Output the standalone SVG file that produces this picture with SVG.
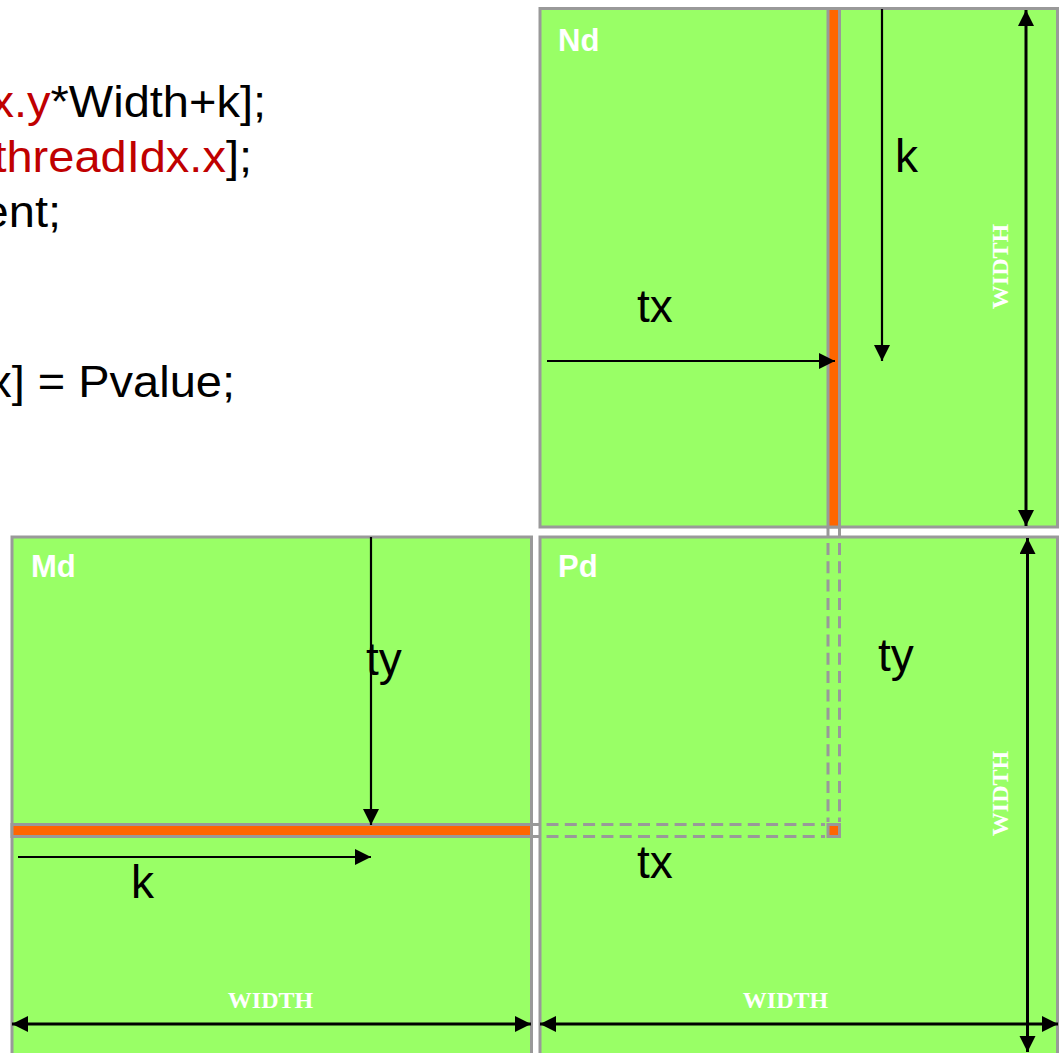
<svg xmlns="http://www.w3.org/2000/svg" width="1063" height="1053" viewBox="0 0 1063 1053">
<defs>
<style>
.mat{fill:#99ff66;stroke:#999999;stroke-width:3}
.strip{fill:#ff6600;stroke:#999999;stroke-width:3}
.gl{stroke:#999999;stroke-width:3;fill:none}
.dash{stroke:#999999;stroke-width:3;fill:none;stroke-dasharray:12 6.3}
.code{font-family:"Liberation Sans",Arial,sans-serif;font-size:44px;fill:#000}
.red{fill:#c00000}
.name{font-family:"Liberation Sans",Arial,sans-serif;font-size:31px;font-weight:bold;fill:#fff}
.lbl{font-family:"Liberation Sans",Arial,sans-serif;font-size:46px;fill:#000}
.wd{font-family:"Liberation Serif","Times New Roman",serif;font-size:24px;font-weight:bold;fill:#fff}
.arr{stroke:#000;stroke-width:2.2;fill:none;marker-end:url(#ah)}
.darr{stroke:#000;stroke-width:3;fill:none;marker-start:url(#ah);marker-end:url(#ah)}
</style>
<marker id="ah" markerUnits="userSpaceOnUse" markerWidth="17" markerHeight="17" refX="16" refY="8" orient="auto-start-reverse">
<path d="M0,0 L16,8 L0,16 Z" fill="#000"/>
</marker>
</defs>
<rect width="1063" height="1053" fill="#fff"/>

<g id="code">
<text class="code" transform="translate(266,117) scale(1.068,1)" text-anchor="end"><tspan class="red">x.y</tspan>*Width+k];</text>
<text class="code" transform="translate(252,172) scale(1.068,1)" text-anchor="end"><tspan class="red">threadIdx.x</tspan>];</text>
<text class="code" transform="translate(61,227) scale(1.068,1)" text-anchor="end">ent;</text>
<text class="code" transform="translate(235,397) scale(1.068,1)" text-anchor="end">x] = Pvalue;</text>
</g>

<g id="Nd">
<rect class="mat" x="540" y="8.5" width="517.5" height="518.5"/>
<rect class="strip" x="828" y="8.5" width="11.5" height="518.5"/>
<text class="name" x="558" y="51">Nd</text>
<text class="lbl" x="895" y="172">k</text>
<text class="lbl" x="637" y="322">tx</text>
<text class="wd" transform="translate(1008,266.5) rotate(-90)" text-anchor="middle">WIDTH</text>
</g>

<g id="Md">
<rect class="mat" x="12" y="537" width="519.5" height="530"/>
<rect class="strip" x="12" y="824.5" width="519.5" height="12"/>
<text class="name" x="31" y="577">Md</text>
<text class="lbl" x="366" y="675">ty</text>
<text class="lbl" x="131" y="898">k</text>
<text class="wd" x="270.5" y="1007.5" text-anchor="middle">WIDTH</text>
</g>

<g id="Pd">
<rect class="mat" x="540" y="537" width="517.5" height="530"/>
<rect class="strip" x="828" y="824.5" width="11.5" height="12"/>
<text class="name" x="558" y="577">Pd</text>
<text class="lbl" x="878" y="671">ty</text>
<text class="lbl" x="637" y="878">tx</text>
<text class="wd" x="785.5" y="1007.5" text-anchor="middle">WIDTH</text>
<text class="wd" transform="translate(1008,793.5) rotate(-90)" text-anchor="middle">WIDTH</text>
</g>

<g id="connectors">
<path class="gl" d="M828,527 V537 M839.5,527 V537 M531.5,824.5 H540 M531.5,836.5 H540"/>
<path class="dash" d="M828,543 V822 M839.5,543 V822 M546.5,824.5 H825 M546.5,836.5 H825"/>
<path class="arr" d="M882,9 V361"/>
<path class="arr" d="M547,361 H835"/>
<path class="arr" d="M371,537 V825"/>
<path class="arr" d="M18,857 H371"/>
<path class="darr" d="M1026,10 V526"/>
<path class="darr" d="M1027.5,538 V1052"/>
<path class="darr" d="M12,1024 H531"/>
<path class="darr" d="M540,1024 H1058"/>
</g>
</svg>
